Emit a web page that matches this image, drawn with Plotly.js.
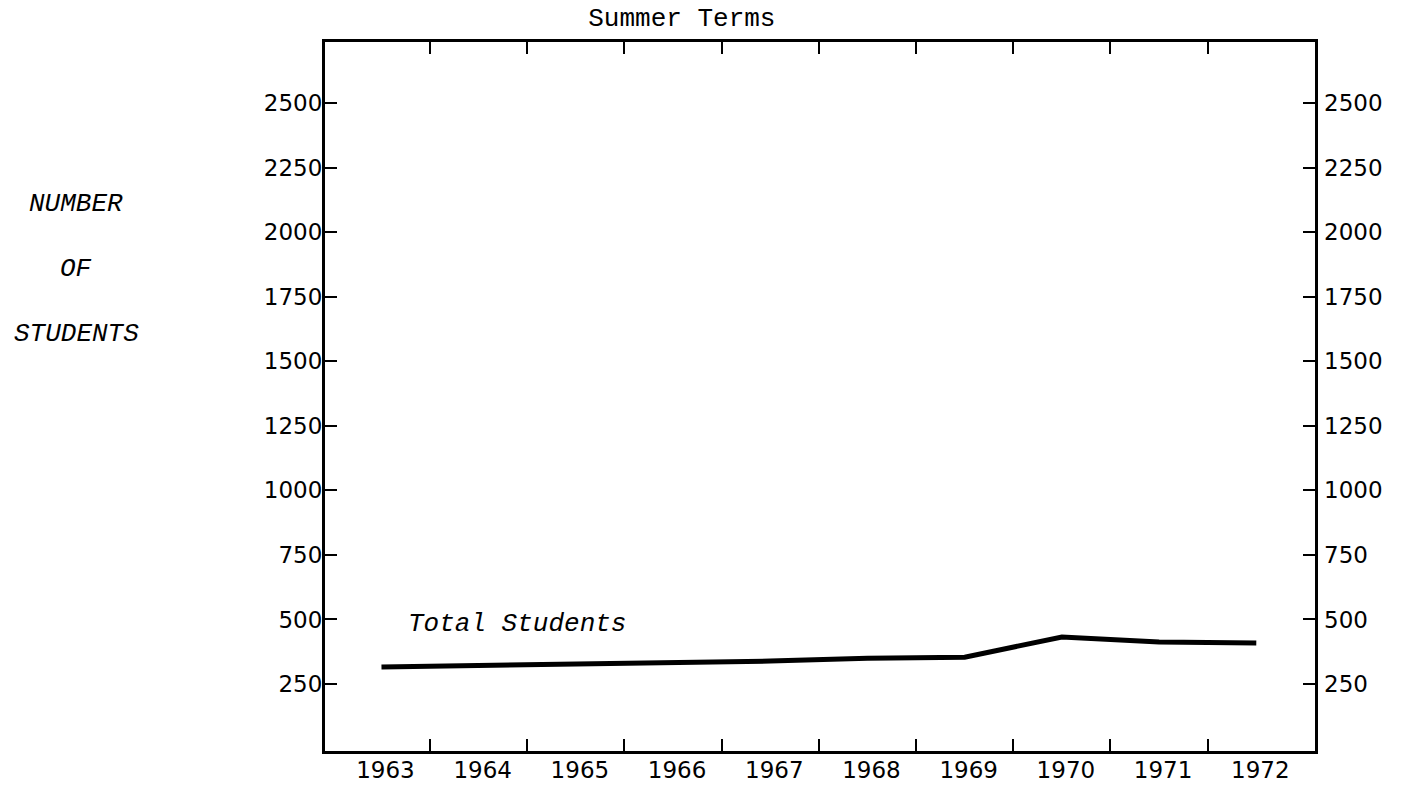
<!DOCTYPE html>
<html>
<head>
<meta charset="utf-8">
<script src="https://cdn.plot.ly/plotly-3.0.1.min.js"></script>
<style>html,body{margin:0;padding:0;background:#fff;}#chart{width:1403px;height:785px;}</style>
</head>
<body>
<div id="chart"></div>
<script>
const years = [1963, 1964, 1965, 1966, 1967, 1968, 1969, 1970, 1971, 1972];
const yearLabels = ['1963', '1964', '1965', '1966', '1967', '1968', '1969', '1970', '1971', '1972'];
const totalStudents = [316, 322, 326, 332, 339, 350, 354, 432, 413, 409];
const yTicks = [250, 500, 750, 1000, 1250, 1500, 1750, 2000, 2250, 2500];
const yTickLabels = ['250', '500', '750', '1000', '1250', '1500', '1750', '2000', '2250', '2500'];
const yearBoundaries = years.slice(0, -1).map(y => y + 0.5);
const seriesName = 'Total Students';
const titleText = 'Summer Terms';
const yTitleLines = ['NUMBER', 'OF', 'STUDENTS'];

const xRange = [1962.419, 1972.604];
const yRange = [-9.3, 2736];

const traces = [
  {
    x: years, y: totalStudents, type: 'scatter', mode: 'lines',
    line: {color: '#000', width: 5}, name: seriesName, showlegend: false, hoverinfo: 'skip'
  },
  {
    x: years, y: totalStudents, type: 'scatter', mode: 'lines',
    line: {color: 'rgba(0,0,0,0)', width: 0}, xaxis: 'x2', yaxis: 'y2',
    showlegend: false, hoverinfo: 'skip'
  }
];

const tickFont = {family: 'DejaVu Sans', size: 23, color: '#000'};
const monoItalic = {family: 'Liberation Mono', size: 26, color: '#000', style: 'italic'};

const yTitleY = [0.7715, 0.6798, 0.5881];
const annotations = yTitleLines.map((t, i) => ({
  text: t, xref: 'paper', yref: 'paper', x: -0.2515, y: yTitleY[i],
  xanchor: 'center', yanchor: 'middle', showarrow: false, font: monoItalic
}));
annotations.push({
  text: seriesName, xref: 'x', yref: 'y', x: 1963.25, y: 482,
  xanchor: 'left', yanchor: 'middle', showarrow: false, font: monoItalic
});

const layout = {
  width: 1403, height: 785,
  margin: {l: 325, r: 88, t: 42, b: 34},
  paper_bgcolor: '#fff', plot_bgcolor: '#fff',
  showlegend: false,
  title: {
    text: titleText, xref: 'container', yref: 'container',
    x: 0.486, y: 0.978, xanchor: 'center', yanchor: 'middle',
    font: {family: 'Liberation Mono', size: 26, color: '#000'}
  },
  xaxis: {
    range: xRange, tickmode: 'array', tickvals: yearBoundaries,
    showticklabels: false, ticks: 'inside', ticklen: 12, tickwidth: 2, tickcolor: '#000',
    showline: true, linecolor: '#000', linewidth: 3, mirror: 'ticks',
    showgrid: false, zeroline: false, fixedrange: true
  },
  xaxis2: {
    range: xRange, overlaying: 'x', anchor: 'y2', side: 'bottom',
    tickmode: 'array', tickvals: years, ticktext: yearLabels,
    ticks: '', showline: false, showgrid: false, zeroline: false,
    tickfont: {family: 'DejaVu Sans', size: 23, color: '#000'},
    ticklabelshift: 4, ticklabelstandoff: 3, fixedrange: true
  },
  yaxis: {
    range: yRange, tickmode: 'array', tickvals: yTicks, ticktext: yTickLabels,
    ticks: 'inside', ticklen: 12, tickwidth: 2, tickcolor: '#000',
    showline: true, linecolor: '#000', linewidth: 3, mirror: 'ticks',
    showgrid: false, zeroline: false, tickfont: tickFont,
    ticklabelstandoff: -5, fixedrange: true
  },
  yaxis2: {
    range: yRange, overlaying: 'y', anchor: 'x2', side: 'right',
    tickmode: 'array', tickvals: yTicks, ticktext: yTickLabels,
    ticks: '', showline: false, showgrid: false, zeroline: false,
    tickfont: tickFont, ticklabelstandoff: 8, fixedrange: true
  },
  annotations: annotations
};

Plotly.newPlot('chart', traces, layout, {displayModeBar: false, staticPlot: true});
</script>
</body>
</html>
